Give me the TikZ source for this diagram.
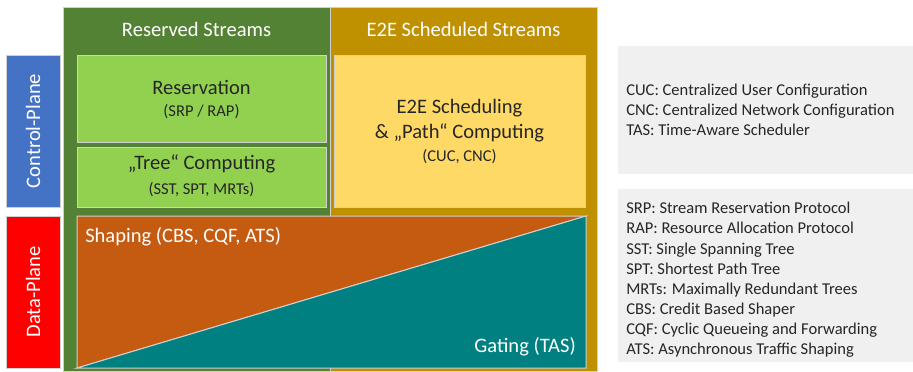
\documentclass[tikz,border=0pt]{standalone}
\usepackage{fontspec}
\setmainfont{Carlito}
\usepackage{tikz}
\newcommand{\boxfont}{\fontsize{15.4}{18.5}\selectfont}
\newcommand{\notefont}{\fontsize{12.4}{15.1}\selectfont}

\begin{document}
\begin{tikzpicture}[x=0.75pt,y=0.75pt,yscale=-1,xscale=1,
  thinrim/.style={draw={rgb, 255:red, 208; green, 208; blue, 208}, line width=0.75},
  headtext/.style={inner sep=0.75pt, font=\boxfont, color=white},
  boxtext/.style={inner sep=0.75pt, font=\boxfont, color={rgb, 255:red, 38; green, 38; blue, 38}},
  subtext/.style={inner sep=0.75pt, font=\notefont, color={rgb, 255:red, 38; green, 38; blue, 38}},
  legendtext/.style={anchor=west, align=left, inner sep=0.75pt, font=\notefont, color={rgb, 255:red, 38; green, 38; blue, 38}}]
\useasboundingbox (0,0) rectangle (913,371);

%Shape: Rectangle [Reserved Streams]
\draw [thinrim, fill={rgb, 255:red, 84; green, 130; blue, 53}] (63,7) rectangle (330,371);
%Shape: Rectangle [E2E Scheduled Streams]
\draw [thinrim, fill={rgb, 255:red, 191; green, 144; blue, 0}] (330,7) rectangle (597,371);
%Shape: Rectangle [Reservation]
\draw [thinrim, fill={rgb, 255:red, 146; green, 208; blue, 80}] (77,55) rectangle (326,142);
%Shape: Rectangle [Tree]
\draw [thinrim, fill={rgb, 255:red, 146; green, 208; blue, 80}] (77,147) rectangle (326,207);
%Shape: Rectangle [E2E Scheduling]
\draw [thinrim, fill={rgb, 255:red, 255; green, 217; blue, 102}] (334,55) rectangle (585,207);
%Shape: Right Triangle [Shaping]
\draw [thinrim, fill={rgb, 255:red, 197; green, 90; blue, 17}] (77,216) -- (586,216) -- (77,368) -- cycle;
%Shape: Right Triangle [Gating]
\draw [thinrim, fill={rgb, 255:red, 0; green, 128; blue, 128}] (77,368) -- (586,216) -- (586,368) -- cycle;
%Shape: Rectangle [Control-Plane]
\draw [thinrim, fill={rgb, 255:red, 68; green, 114; blue, 196}] (6,55) rectangle (60,207);
%Shape: Rectangle [Data-Plane]
\draw [thinrim, fill={rgb, 255:red, 255; green, 0; blue, 0}] (6,216) rectangle (60,368);
%Shape: Rectangle [legend top]
\draw [fill={rgb, 255:red, 240; green, 240; blue, 240}, draw=none] (618,46) rectangle (913,174);
%Shape: Rectangle [legend bottom]
\draw [fill={rgb, 255:red, 240; green, 240; blue, 240}, draw=none] (618,189) rectangle (913,362);

% Text Node
\draw (196.5,29) node (rsvhead) [headtext] {Reserved Streams};
% Text Node
\draw (463.5,29) node (e2ehead) [headtext] {E2E Scheduled Streams};
% Text Node
\draw (201.5,87) node (resv) [boxtext] {Reservation};
% Text Node
\draw (201.5,112) node (resvsub) [subtext] {(SRP / RAP)};
% Text Node
\draw (201.5,164) node (tree) [boxtext] {„Tree“ Computing};
% Text Node
\draw (201.5,190) node (treesub) [subtext] {(SST, SPT, MRTs)};
% Text Node
\draw (459.5,108) node (sched) [boxtext] {E2E Scheduling};
% Text Node
\draw (459.5,133) node (path) [boxtext] {\& „Path“ Computing};
% Text Node
\draw (459.5,157) node (schedsub) [subtext] {(CUC, CNC)};
% Text Node
\draw (84,237) node (shaping) [headtext, anchor=west] {Shaping (CBS, CQF, ATS)};
% Text Node
\draw (577,347) node (gating) [headtext, anchor=east] {Gating (TAS)};
% Text Node
\draw (33,131) node (ctrl) [headtext, rotate=90] {Control-Plane};
% Text Node
\draw (33,292) node (data) [headtext, rotate=90] {Data-Plane};
% Text Node
\draw (625,110) node (abbrtop) [legendtext] {CUC: Centralized User Configuration\\CNC: Centralized Network Configuration\\TAS: Time-Aware Scheduler};
% Text Node
\draw (625,280) node (abbrbot) [legendtext] {SRP: Stream Reservation Protocol\\RAP: Resource Allocation Protocol\\SST: Single Spanning Tree\\SPT: Shortest Path Tree\\MRTs: Maximally Redundant Trees\\CBS: Credit Based Shaper\\CQF: Cyclic Queueing and Forwarding\\ATS: Asynchronous Traffic Shaping};

\end{tikzpicture}
\end{document}
